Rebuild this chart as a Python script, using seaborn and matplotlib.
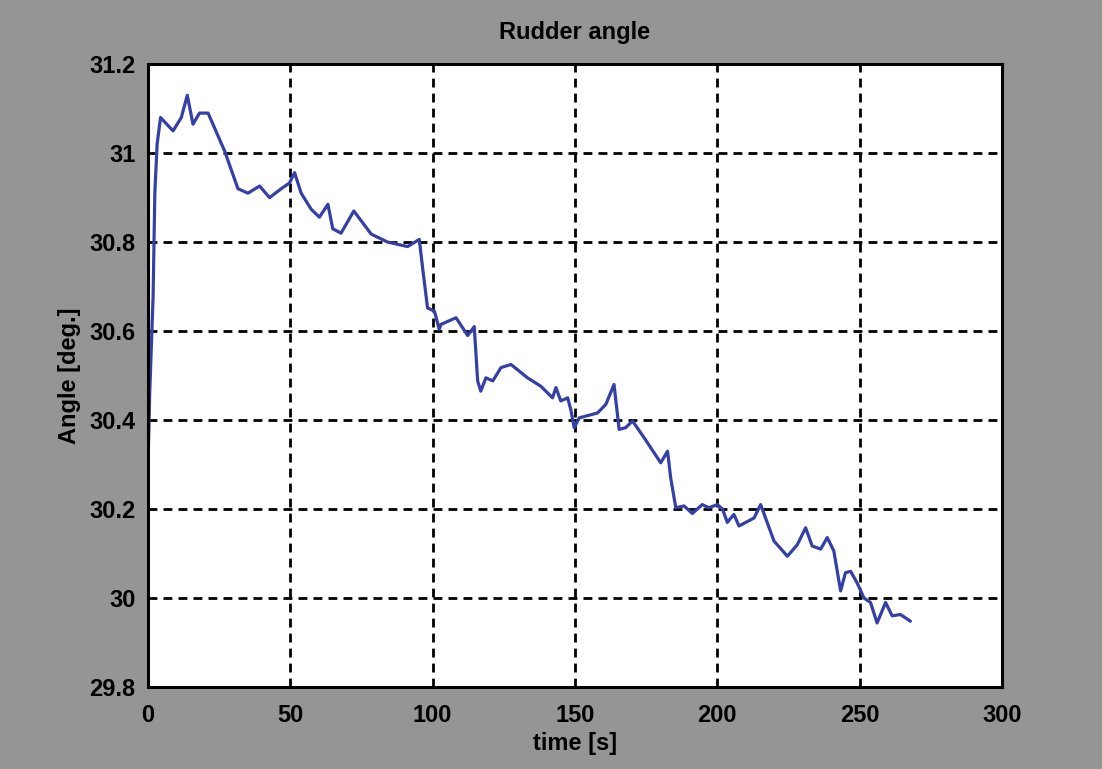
import pandas as pd
import matplotlib
matplotlib.use("Agg")
import matplotlib.pyplot as plt
import seaborn as sns

# valori (tempo in s, angolo in gradi)
time_s = [0, 0.6, 1.2, 1.8, 2.4, 3.2, 4.4, 8.8, 11.7, 13.8, 15.8, 18.1, 21.1, 26.9,
          31.6, 35.1, 39.2, 42.7, 46.8, 49.7, 51.5, 53.8, 57.3, 60.2, 63.2, 64.9,
          67.8, 72.3, 78.4, 84.2, 91.2, 95.3, 96.5, 98.2, 100.6, 102.3, 102.9, 108.2,
          112.3, 114.6, 115.8, 116.9, 118.7, 121.1, 124.0, 127.5, 133.3, 138.0, 142.1,
          143.3, 145.0, 147.4, 148.5, 149.7, 151.5, 157.9, 160.8, 163.7, 165.5, 167.8,
          170.2, 174.3, 180.1, 182.5, 183.6, 185.4, 188.3, 191.2, 194.7, 197.0, 200.0,
          201.8, 203.5, 205.8, 207.6, 212.9, 215.2, 219.9, 224.6, 228.1, 231.0, 233.3,
          236.3, 238.6, 240.9, 243.3, 245.0, 246.8, 249.1, 251.5, 253.8, 256.1, 259.1,
          261.4, 264.3, 267.8]
angle_deg = [30.30, 30.46, 30.57, 30.68, 30.91, 31.02, 31.08, 31.05, 31.08, 31.13, 31.065,
             31.09, 31.09, 31.005, 30.92, 30.91, 30.926, 30.90, 30.92, 30.933, 30.956,
             30.91, 30.874, 30.856, 30.885, 30.83, 30.82, 30.87, 30.818, 30.80, 30.79,
             30.806, 30.74, 30.652, 30.645, 30.604, 30.615, 30.63, 30.59, 30.61, 30.488,
             30.465, 30.495, 30.488, 30.518, 30.525, 30.495, 30.476, 30.45, 30.473, 30.443,
             30.45, 30.424, 30.383, 30.405, 30.416, 30.435, 30.48, 30.379, 30.383, 30.398,
             30.36, 30.304, 30.33, 30.27, 30.203, 30.207, 30.19, 30.21, 30.203, 30.21,
             30.2, 30.17, 30.188, 30.162, 30.18, 30.21, 30.128, 30.094, 30.12, 30.158,
             30.117, 30.11, 30.136, 30.106, 30.016, 30.057, 30.06, 30.034, 30.0, 29.99,
             29.944, 29.99, 29.96, 29.963, 29.948]

x_ticks = [0, 50, 100, 150, 200, 250, 300]
y_ticks = [29.8, 30, 30.2, 30.4, 30.6, 30.8, 31, 31.2]
y_tick_labels = ["29.8", "30", "30.2", "30.4", "30.6", "30.8", "31", "31.2"]

df = pd.DataFrame({"time": time_s, "angle": angle_deg})

sns.set_style("white")
plt.rcParams["font.family"] = ["Liberation Sans", "DejaVu Sans"]
plt.rcParams["text.color"] = "black"
plt.rcParams["axes.labelcolor"] = "black"

fig = plt.figure(figsize=(11.02, 7.69), dpi=100, facecolor="#959595")
ax = fig.add_axes([0.1343, 0.1066, 0.775, 0.810])
ax.set_facecolor("white")

sns.lineplot(data=df, x="time", y="angle", estimator=None, sort=False,
             color="#3440a6", linewidth=2.3, ax=ax)

ax.set_xlim(0, 300)
ax.set_ylim(29.8, 31.2)
ax.set_xticks(x_ticks)
ax.set_yticks(y_ticks)
ax.set_yticklabels(y_tick_labels)

# griglia tratteggiata stile MATLAB
ax.grid(True, color="black", linestyle=(0, (3.2, 2.2)), linewidth=2.0)
for s in ax.spines.values():
    s.set_color("black")
    s.set_linewidth(2.2)

ax.tick_params(direction="in", length=6, width=1.5, colors="black",
               labelsize=17, top=False, right=False)
ax.tick_params(axis="x", pad=12)
ax.tick_params(axis="y", pad=9)
for lab in ax.get_xticklabels() + ax.get_yticklabels():
    lab.set_fontweight("bold")

ax.set_title("Rudder angle", fontsize=17, fontweight="bold", pad=18, color="black")
ax.set_xlabel("time [s]", fontsize=17, fontweight="bold", labelpad=4, color="black")
ax.set_ylabel("Angle [deg.]", fontsize=17, fontweight="bold", labelpad=6, color="black")

fig.savefig("out.png", dpi=100, facecolor=fig.get_facecolor())
